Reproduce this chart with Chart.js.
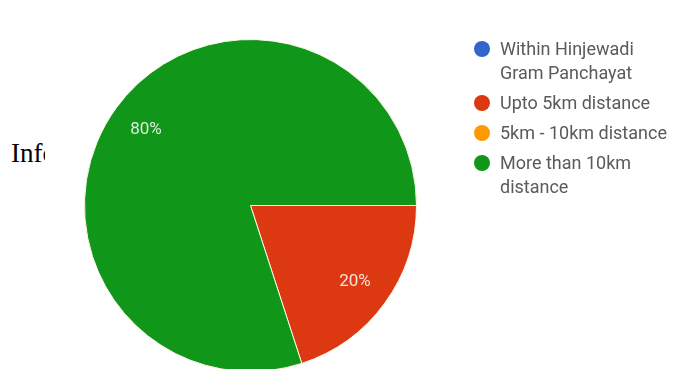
<!DOCTYPE html>
<html>
<head>
<meta charset="utf-8">
<script src="https://cdn.jsdelivr.net/npm/chart.js@4.4.1/dist/chart.umd.min.js"></script>
<style>
  html, body { margin: 0; padding: 0; background: #fff; }
  body { width: 675px; height: 369px; position: relative; overflow: hidden; }
  #caption { position: absolute; left: 11px; top: 140px; font: 27px/27px "Liberation Serif", "DejaVu Serif", serif; color: #000; white-space: nowrap; }
  #panel { position: absolute; left: 45px; top: 0; width: 630px; height: 369px; background: #fff; overflow: hidden; }
  #pie { position: absolute; left: 0; top: 0; }
</style>
</head>
<body>
<div id="caption">Information</div>
<div id="panel"><canvas id="pie" width="630" height="372"></canvas></div>
<script>
const categories = ['Within Hinjewadi Gram Panchayat', 'Upto 5km distance', '5km - 10km distance', 'More than 10km distance'];
const legendLines = [['Within Hinjewadi', 'Gram Panchayat'], ['Upto 5km distance'], ['5km - 10km distance'], ['More than 10km', 'distance']];
const shares = [0, 20, 0, 80];
const colors = ['#3366cc', '#dc3912', '#ff9900', '#109618'];

// percentage text inside each non-empty slice
const sliceLabels = {
  id: 'sliceLabels',
  afterDatasetsDraw(chart) {
    const { ctx } = chart;
    const meta = chart.getDatasetMeta(0);
    const values = chart.data.datasets[0].data;
    ctx.save();
    ctx.font = '17px Roboto';
    ctx.fillStyle = 'rgba(255,255,255,0.85)';
    ctx.textAlign = 'center';
    ctx.textBaseline = 'middle';
    meta.data.forEach((arc, i) => {
      if (!values[i]) return;
      const mid = (arc.startAngle + arc.endAngle) / 2;
      const r = arc.outerRadius * 0.778;
      ctx.fillText(values[i] + '%', arc.x + Math.cos(mid) * r, arc.y + Math.sin(mid) * r);
    });
    ctx.restore();
  }
};

// legend on the right with wrapped labels
const sideLegend = {
  id: 'sideLegend',
  afterDraw(chart) {
    const { ctx } = chart;
    const cols = chart.data.datasets[0].backgroundColor;
    let y = 49;
    ctx.save();
    ctx.font = '18px Roboto';
    ctx.textBaseline = 'middle';
    legendLines.forEach((lines, i) => {
      ctx.beginPath();
      ctx.arc(437, y, 8, 0, Math.PI * 2);
      ctx.fillStyle = cols[i];
      ctx.fill();
      ctx.fillStyle = '#5a5a5a';
      lines.forEach((txt, j) => ctx.fillText(txt, 455, y + 1 + j * 24));
      y += (lines.length - 1) * 24 + 30;
    });
    ctx.restore();
  }
};

new Chart(document.getElementById('pie'), {
  type: 'pie',
  data: {
    labels: categories,
    datasets: [{
      data: shares,
      backgroundColor: colors,
      borderColor: '#fbf6e8',
      borderWidth: shares.map(v => (v ? 1 : 0))
    }]
  },
  options: {
    responsive: false,
    animation: false,
    rotation: 90,
    layout: { padding: { left: 39, top: 39, right: 258, bottom: 0 } },
    plugins: { legend: { display: false }, tooltip: { enabled: false } }
  },
  plugins: [sliceLabels, sideLegend]
});
</script>
</body>
</html>
